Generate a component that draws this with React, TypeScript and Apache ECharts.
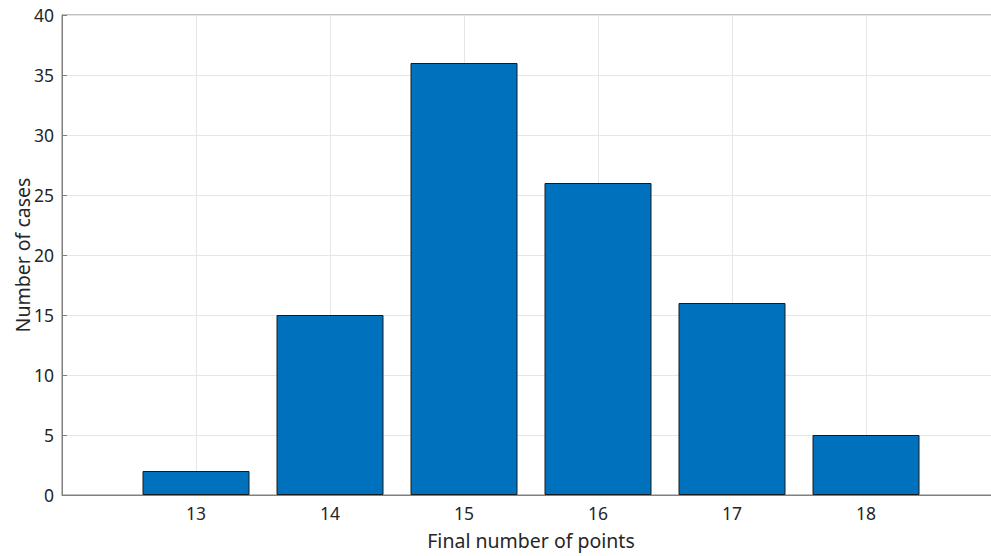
import React, { useEffect, useRef } from "react";
import * as echarts from "echarts";

const points = [13, 14, 15, 16, 17, 18];
const cases = [2, 15, 36, 26, 16, 5];
const yTicks = [0, 5, 10, 15, 20, 25, 30, 35, 40];

export default function App() {
  const ref = useRef<HTMLDivElement>(null);
  useEffect(() => {
    if (!ref.current) return;
    const chart = echarts.init(ref.current, undefined, { renderer: "svg" });
    const axisColor = "#808080";
    const textColor = "#262626";
    const font = "'Noto Sans', 'Open Sans', sans-serif";
    chart.setOption({
      animation: false,
      grid: {
        left: 62,
        width: 938,
        top: 15,
        bottom: 61,
        outerBoundsMode: "none",
        containLabel: false,
        show: true,
        borderColor: axisColor,
        borderWidth: 1,
        backgroundColor: "transparent",
      },
      xAxis: {
        type: "value",
        min: 12,
        max: 19,
        interval: 1,
        name: "Final number of points",
        nameLocation: "middle",
        nameGap: 35,
        nameMoveOverlap: false,
        nameTextStyle: { color: textColor, fontSize: 19.5, fontFamily: font },
        axisLine: { show: true, lineStyle: { color: axisColor } },
        axisTick: { show: true, inside: true, length: 5, lineStyle: { color: axisColor } },
        axisLabel: {
          color: textColor,
          fontSize: 17.5,
          fontFamily: font,
          margin: 9,
          formatter: (v: number) => (points.indexOf(v) >= 0 ? String(v) : ""),
        },
        splitLine: { show: true, lineStyle: { color: "#e6e6e6" } },
      },
      yAxis: {
        type: "value",
        min: yTicks[0],
        max: yTicks[yTicks.length - 1],
        interval: 5,
        name: "Number of cases",
        nameLocation: "middle",
        nameGap: 30,
        nameMoveOverlap: false,
        nameTextStyle: { color: textColor, fontSize: 19.5, fontFamily: font },
        axisLine: { show: true, lineStyle: { color: axisColor } },
        axisTick: { show: true, inside: true, length: 5, lineStyle: { color: axisColor } },
        axisLabel: { color: textColor, fontSize: 17.5, fontFamily: font, margin: 8 },
        splitLine: { show: true, lineStyle: { color: "#e6e6e6" } },
      },
      series: [
        {
          type: "bar",
          data: points.map((p, i) => [p, cases[i]]),
          barWidth: 107,
          itemStyle: { color: "#0072BD", borderColor: "#1a1a1a", borderWidth: 1 },
        },
      ],
    });
    return () => chart.dispose();
  }, []);
  return (
    <div
      ref={ref}
      style={{ position: "fixed", left: 0, top: 0, width: 991, height: 556, background: "#fff" }}
    />
  );
}
